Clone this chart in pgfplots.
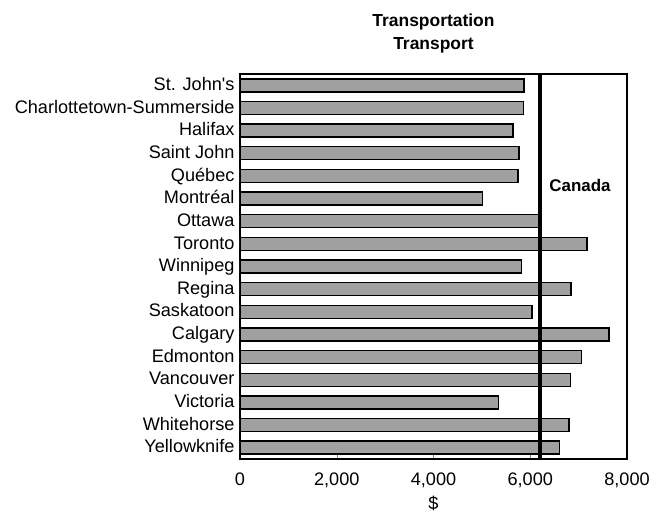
\documentclass[border=0pt]{standalone}
\usepackage{pgfplots}
\pgfplotsset{compat=1.18}
\usepackage{fontspec}
\setmainfont{Liberation Sans}

\definecolor{bargray}{HTML}{A0A0A0}

\begin{document}
\begin{tikzpicture}[x=1bp,y=1bp]
\begin{axis}[
  scale only axis,
  width=387bp, height=385bp,
  xmin=0, xmax=8000,
  ymin=-0.5, ymax=16.5,
  y dir=reverse,
  xtick={0,2000,4000,6000,8000},
  xtick pos=bottom,
  tick align=inside,
  major tick length=4bp,
  ytick={0,...,16},
  yticklabels={St. John\textquotesingle s,Charlottetown-Summerside,Halifax,Saint John,Québec,Montréal,Ottawa,Toronto,Winnipeg,Regina,Saskatoon,Calgary,Edmonton,Vancouver,Victoria,Whitehorse,Yellowknife},
  ytick style={draw=none},
  /pgf/number format/1000 sep={,},
  /pgf/number format/assume math mode=true,
  tick label style={font=\fontsize{18.2}{20}\selectfont},
  yticklabel style={xshift=-2bp, yshift=-2bp, text height=1.45ex, text depth=0.25ex},
  xticklabel style={yshift=-10bp},
  xlabel={\$},
  xlabel style={font=\fontsize{18.2}{20}\selectfont, yshift=-2bp},
  title={Transportation\\Transport},
  title style={font=\bfseries\fontsize{17.5}{23}\selectfont, align=center, yshift=11bp},
  axis line style={line width=1.2pt},
]
\addplot[xbar, bar width=13bp, fill=bargray, draw=black, line width=1.4pt] coordinates {
(5870,0)
(5860,1)
(5640,2)
(5770,3)
(5745,4)
(5015,5)
(6165,6)
(7170,7)
(5825,8)
(6840,9)
(6035,10)
(7625,11)
(7065,12)
(6830,13)
(5345,14)
(6800,15)
(6610,16)
};
\addplot[black, line width=4bp, mark=none] coordinates {(6200,-0.5) (6200,16.5)};
\node[font=\bfseries\fontsize{17}{20}\selectfont] at (axis cs:7030,4.4) {Canada};
\end{axis}
\path ([shift={(-240bp,-51bp)}]current axis.south west) rectangle ([shift={(423bp,459bp)}]current axis.south west);
\end{tikzpicture}
\end{document}
